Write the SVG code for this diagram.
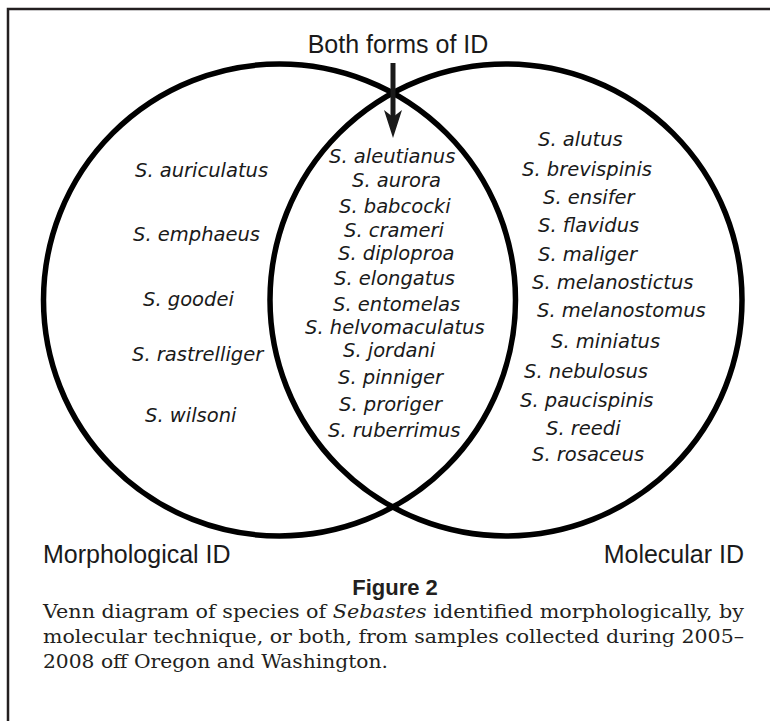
<svg xmlns="http://www.w3.org/2000/svg" width="770" height="721" viewBox="0 0 770 721">
<style>
.frame{stroke:#231f20;stroke-width:2.5;fill:none}
.set{fill:none;stroke:#000;stroke-width:5.5}
.sp{font-family:"DejaVu Sans",Verdana,sans-serif;font-style:italic;font-size:19.5px;fill:#1a1a1a}
.lab{font-family:"Liberation Sans",Arial,sans-serif;font-size:25px;fill:#1a1a1a}
.fig{font-family:"Liberation Sans",Arial,sans-serif;font-size:22px;font-weight:bold;fill:#231f20}
.cap{font-family:"DejaVu Serif","Liberation Serif",serif;font-size:18.5px;fill:#231f20}
</style>
<rect width="770" height="721" fill="#fff"/>
<path class="frame" d="M8,721 V9 H770"/>
<g id="morphological">
<circle class="set" cx="279.5" cy="300" r="236"/>
<text class="lab" x="43" y="563">Morphological ID</text>
</g>
<g id="molecular">
<circle class="set" cx="506" cy="300" r="236"/>
<text class="lab" x="744" y="563" text-anchor="end">Molecular ID</text>
</g>
<g id="both">
<text class="lab" x="398" y="53" text-anchor="middle">Both forms of ID</text>
</g>
<g id="connectors">
<line x1="393" y1="63" x2="393" y2="118" stroke="#1a1a1a" stroke-width="5"/>
<polygon points="384,110 393,117 402,110 393,138" fill="#1a1a1a"/>
</g>
<g id="morph-only" class="sp">
<text x="135" y="177">S. auriculatus</text>
<text x="133" y="241">S. emphaeus</text>
<text x="143" y="306">S. goodei</text>
<text x="132" y="361">S. rastrelliger</text>
<text x="145" y="422">S. wilsoni</text>
</g>
<g id="both-list" class="sp">
<text x="329" y="163">S. aleutianus</text>
<text x="352" y="187">S. aurora</text>
<text x="339" y="213">S. babcocki</text>
<text x="344" y="237">S. crameri</text>
<text x="338" y="260">S. diploproa</text>
<text x="334" y="285">S. elongatus</text>
<text x="333" y="311">S. entomelas</text>
<text x="305" y="334">S. helvomaculatus</text>
<text x="343" y="357">S. jordani</text>
<text x="338" y="384">S. pinniger</text>
<text x="339" y="411">S. proriger</text>
<text x="328" y="437">S. ruberrimus</text>
</g>
<g id="mol-only" class="sp">
<text x="538" y="146">S. alutus</text>
<text x="522" y="176">S. brevispinis</text>
<text x="543" y="204">S. ensifer</text>
<text x="538" y="232">S. flavidus</text>
<text x="538" y="261">S. maliger</text>
<text x="532" y="289">S. melanostictus</text>
<text x="537" y="317">S. melanostomus</text>
<text x="551" y="348">S. miniatus</text>
<text x="524" y="378">S. nebulosus</text>
<text x="520" y="407">S. paucispinis</text>
<text x="546" y="435">S. reedi</text>
<text x="532" y="461">S. rosaceus</text>
</g>
<g id="caption">
<text class="fig" x="395" y="595" text-anchor="middle">Figure 2</text>
<text class="cap" x="43" y="618" textLength="701" lengthAdjust="spacingAndGlyphs">Venn diagram of species of <tspan font-style="italic">Sebastes</tspan> identified morphologically, by</text>
<text class="cap" x="43" y="643" textLength="701" lengthAdjust="spacingAndGlyphs">molecular technique, or both, from samples collected during 2005–</text>
<text class="cap" x="43" y="668" textLength="345" lengthAdjust="spacingAndGlyphs">2008 off Oregon and Washington.</text>
</g>
</svg>
